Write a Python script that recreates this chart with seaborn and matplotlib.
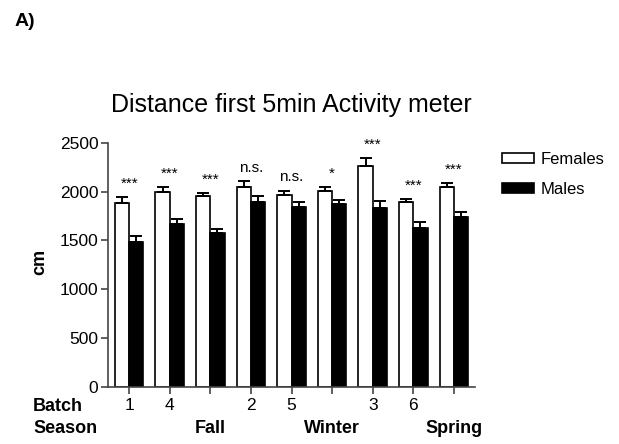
import numpy as np
import pandas as pd
import matplotlib
matplotlib.use("Agg")
import matplotlib.pyplot as plt
import seaborn as sns
from matplotlib import font_manager

# Values (cm, mean and SEM)
batches = ["1", "4", "", "2", "5", "", "3", "6", ""]
seasons = ["Fall", "Winter", "Spring"]
females_mean = [1887, 1997, 1953, 2051, 1963, 2010, 2267, 1891, 2048]
females_sem = [62, 55, 37, 58, 47, 35, 80, 38, 45]
males_mean = [1484, 1665, 1576, 1894, 1846, 1870, 1829, 1627, 1743]
males_sem = [60, 50, 40, 65, 52, 40, 78, 65, 52]
signif = ["***", "***", "***", "n.s.", "n.s.", "*", "***", "***", "***"]

sns.set_style("ticks", {"text.color": "black", "axes.labelcolor": "black",
                        "xtick.color": "black", "ytick.color": "black"})
names = {f.name for f in font_manager.fontManager.ttflist}
narrow = "Liberation Sans Narrow" if "Liberation Sans Narrow" in names else "Liberation Sans"
plt.rcParams["font.family"] = [narrow, "DejaVu Sans"]

groups = list(range(len(batches)))
df = pd.DataFrame({
    "group": groups * 2,
    "sex": ["Females"] * len(groups) + ["Males"] * len(groups),
    "mean": females_mean + males_mean,
    "sem": females_sem + males_sem,
})

fig = plt.figure(figsize=(6.19, 4.44), dpi=100)
ax = fig.add_axes([108 / 619, 1 - 386.5 / 444, (475 - 108) / 619, (386.5 - 143) / 444])

sns.barplot(data=df, x="group", y="mean", hue="sex", order=groups,
            hue_order=["Females", "Males"], palette=["white", "black"],
            errorbar=None, width=0.7, edgecolor="black", linewidth=1.2,
            saturation=1, ax=ax)

# one-sided error bars drawn on the bar centres
for cont, sems in zip(ax.containers, [females_sem, males_sem]):
    xs = [p.get_x() + p.get_width() / 2 for p in cont.patches]
    ys = [p.get_height() for p in cont.patches]
    ax.errorbar(xs, ys, yerr=[np.zeros(len(sems)), sems], fmt="none",
                ecolor="black", elinewidth=1.4, capsize=4, capthick=1.4)

# significance marks
for i, s in enumerate(signif):
    top = max(females_mean[i] + females_sem[i], males_mean[i] + males_sem[i])
    ax.text(i, top + 65, s, ha="center", va="bottom", fontsize=11)

ax.set_ylim(0, 2500)
ax.set_xlim(-0.52, 8.52)
ax.set_yticks([0, 500, 1000, 1500, 2000, 2500])
ax.set_xticks(groups)
ax.set_xticklabels(batches, fontsize=12.5)
ax.tick_params(axis="y", labelsize=12.5, length=5, width=1.2, color="#444444",
               pad=2)
ax.tick_params(axis="x", length=5, width=1.2, color="#444444", pad=3)
ax.set_xlabel("")
ax.set_ylabel("cm", fontsize=13, fontweight="bold")
ax.yaxis.set_label_coords((48 - 108) / 367, 0.51)
sns.despine(ax=ax)
for sp in ["left", "bottom"]:
    ax.spines[sp].set_linewidth(1.2)
    ax.spines[sp].set_color("#444444")

ax.set_title("Distance first 5min Activity meter", fontsize=18, pad=22)

# row labels and season labels
fig.text(33 / 619, 1 - 406 / 444, "Batch", fontsize=13, fontweight="bold",
         ha="left", va="center")
fig.text(33 / 619, 1 - 428 / 444, "Season", fontsize=13, fontweight="bold",
         ha="left", va="center")
for pos, season in zip([2, 5, 8], seasons):
    ax.text(pos, -0.172, season, transform=ax.get_xaxis_transform(),
            fontsize=13, fontweight="bold", ha="center", va="center")

fig.text(15 / 619, 1 - 22 / 444, "A)", fontsize=14, fontweight="bold",
         ha="left", va="center")

ax.legend(loc="upper left", bbox_to_anchor=(487 / 619, 1 - 137 / 444),
          bbox_transform=fig.transFigure, frameon=False, fontsize=12,
          handlelength=1.9, handleheight=0.55, handletextpad=0.4,
          labelspacing=0.9)

fig.savefig("out.png", dpi=100)
